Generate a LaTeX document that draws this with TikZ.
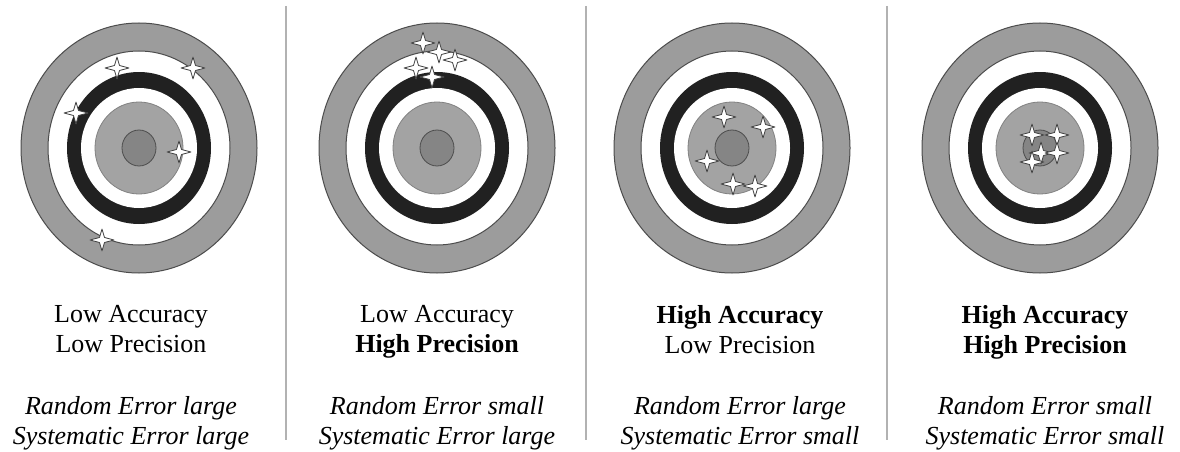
\documentclass[tikz,border=0pt]{standalone}
\usepackage{fontspec}
\setmainfont{Liberation Serif}
\usetikzlibrary{positioning}

\definecolor{ringgray}{gray}{0.61}
\definecolor{innergray}{gray}{0.64}
\definecolor{dotgray}{gray}{0.52}
\definecolor{ringblack}{gray}{0.13}
\definecolor{ringline}{gray}{0.30}
\definecolor{rulegray}{gray}{0.70}

\tikzset{
  target/.pic={
    \filldraw[fill=ringgray,draw=ringline,line width=1pt] (0,0) ellipse (118pt and 125pt);
    \filldraw[fill=white,draw=ringline,line width=1pt] (0,0) ellipse (91pt and 97pt);
    \fill[ringblack] (0,0) ellipse (72pt and 76pt);
    \fill[white] (0,0) ellipse (58pt and 60pt);
    \filldraw[fill=innergray,draw=ringline!70,line width=0.8pt] (0,0) ellipse (44pt and 46pt);
    \filldraw[fill=dotgray,draw=ringline,line width=0.8pt] (0,0) ellipse (17pt and 18pt);
  },
  hit/.pic={
    \filldraw[fill=white,draw=black!75,line width=0.8pt,line join=round]
      (0pt,11pt) -- (2.5pt,2.5pt) -- (12pt,0pt) -- (2.5pt,-2.5pt) --
      (0pt,-11pt) -- (-2.5pt,-2.5pt) -- (-12pt,0pt) -- (-2.5pt,2.5pt) -- cycle;
  },
  lbl/.style={align=center,anchor=north,inner sep=0pt,font=\fontsize{26}{30}\selectfont},
  divider/.style={draw=rulegray,line width=1.6pt}
}

\begin{document}
\begin{tikzpicture}[x=1pt,y=-1pt]
  \useasboundingbox (0,0) rectangle (1180,452);

  % dividers
  \draw[divider] (286,6) -- (286,440);
  \draw[divider] (586,6) -- (586,440);
  \draw[divider] (887,6) -- (887,440);

  % targets
  \pic (t1) at (139,148) {target};
  \pic (t2) at (437,148) {target};
  \pic (t3) at (732,148) {target};
  \pic (t4) at (1040,148) {target};

  % hits
  \foreach \p in {(117,68),(193,68),(76,113),(179,152),(102,240)}
    \pic at \p {hit};
  \foreach \p in {(423,43),(439,52),(455,60),(416,68),(432,77)}
    \pic at \p {hit};
  \foreach \p in {(724,117),(763,127),(707,161),(733,184),(755,186)}
    \pic at \p {hit};
  \foreach \p in {(1032,135),(1057,135),(1041,153),(1057,153),(1032,162)}
    \pic at \p {hit};

  % labels
  \node[lbl] (a1) at (131,305) {Low Accuracy\\Low Precision};
  \node[lbl] (a2) at (437,305) {Low Accuracy\\\textbf{High Precision}};
  \node[lbl] (a3) at (740,305) {\textbf{High Accuracy}\\Low Precision};
  \node[lbl] (a4) at (1045,305) {\textbf{High Accuracy}\\\textbf{High Precision}};

  \node[lbl,font=\fontsize{26}{30}\selectfont\itshape] (e1) at (131,396) {Random Error large\\Systematic Error large};
  \node[lbl,font=\fontsize{26}{30}\selectfont\itshape] (e2) at (437,396) {Random Error small\\Systematic Error large};
  \node[lbl,font=\fontsize{26}{30}\selectfont\itshape] (e3) at (740,396) {Random Error large\\Systematic Error small};
  \node[lbl,font=\fontsize{26}{30}\selectfont\itshape] (e4) at (1045,396) {Random Error small\\Systematic Error small};
\end{tikzpicture}
\end{document}
